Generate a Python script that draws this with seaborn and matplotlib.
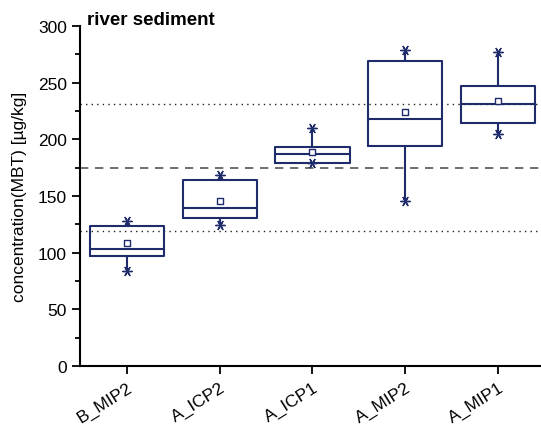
import numpy as np
import pandas as pd
import matplotlib
matplotlib.use("Agg")
import matplotlib.pyplot as plt
from matplotlib.ticker import MultipleLocator
import seaborn as sns

# Five-number summaries per sample (min, Q1, median, Q3, max) and means
samples = ["B_MIP2", "A_ICP2", "A_ICP1", "A_MIP2", "A_MIP1"]
mins = [83.8, 124.7, 179.4, 145.9, 205.0]
q1s = [97.3, 130.9, 179.4, 194.4, 214.4]
medians = [103.0, 139.4, 186.8, 218.2, 230.9]
q3s = [123.8, 164.1, 193.5, 269.4, 247.4]
maxs = [128.0, 168.8, 210.3, 278.5, 277.4]
means = [108.5, 145.3, 188.8, 223.8, 233.8]

# Reference levels: assigned value and tolerance band
ref_center = 175.0
ref_low = 119.0
ref_high = 231.0

sns.set_theme(style="ticks")
plt.rcParams["font.family"] = ["Liberation Sans", "DejaVu Sans"]
plt.rcParams["text.color"] = "black"

navy = "#1f2c6c"

rows = []
for s, a, b, c, d, e in zip(samples, mins, q1s, medians, q3s, maxs):
    for v in (a, b, c, d, e):
        rows.append({"sample": s, "value": v})
df = pd.DataFrame(rows)

fig = plt.figure(figsize=(5.41, 4.35), dpi=100)
ax = fig.add_axes([80 / 541, 68 / 435, 461 / 541, 340 / 435])

ax.axhline(ref_center, color="#555555", lw=1.2, ls=(0, (5, 4)), zorder=1)
ax.axhline(ref_low, color="#222222", lw=1.0, ls=(0, (1, 3)), zorder=1)
ax.axhline(ref_high, color="#222222", lw=1.0, ls=(0, (1, 3)), zorder=1)

sns.boxplot(data=df, x="sample", y="value", order=samples, whis=(0, 100),
            width=0.8, fill=False, color=navy, linewidth=1.5,
            showfliers=False, showcaps=False, ax=ax,
            medianprops={"color": navy, "linewidth": 1.5},
            whiskerprops={"color": navy, "linewidth": 1.5},
            boxprops={"color": navy, "linewidth": 1.5})

ext = pd.DataFrame({"sample": samples * 2, "value": mins + maxs})
sns.scatterplot(data=ext, x="sample", y="value", marker=(6, 2, 90), s=45,
                color=navy, linewidth=1.0, edgecolor=navy, ax=ax, zorder=5,
                legend=False)
mdf = pd.DataFrame({"sample": samples, "value": means})
sns.scatterplot(data=mdf, x="sample", y="value", marker="s", s=16,
                facecolor="white", edgecolor=navy, linewidth=1.0, ax=ax,
                zorder=6, legend=False)

ax.set_xlim(-0.507, 4.464)
ax.set_ylim(0, 300)
ax.yaxis.set_major_locator(MultipleLocator(50))
ax.yaxis.set_minor_locator(MultipleLocator(25))
ax.tick_params(axis="both", which="major", direction="out", length=6,
               width=1.3, color="black", labelsize=12.5, labelcolor="black")
ax.tick_params(axis="y", which="minor", direction="out", length=3.5,
               width=1.3, color="black")
for sp in ("left", "bottom"):
    ax.spines[sp].set_linewidth(1.5)
    ax.spines[sp].set_color("black")
sns.despine(ax=ax)

ax.set_xlabel("")
ax.set_ylabel("concentration(MBT) [µg/kg]", fontsize=12.5, color="black",
              labelpad=8)
plt.setp(ax.get_xticklabels(), rotation=32, ha="right",
         rotation_mode="anchor")

ax.text(0.015, 1.0, "river sediment", transform=ax.transAxes,
        fontsize=13.5, fontweight="bold", ha="left", va="center",
        color="black")
ax.texts[-1].set_y(1.02)

fig.savefig("out.png", dpi=100)
